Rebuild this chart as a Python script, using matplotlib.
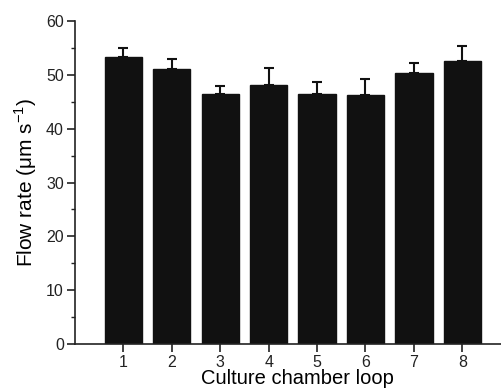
import matplotlib
matplotlib.use('Agg')
import matplotlib.pyplot as plt
from matplotlib.ticker import MultipleLocator

plt.rcParams['font.family'] = ['Liberation Sans', 'DejaVu Sans']
plt.rcParams['mathtext.fontset'] = 'custom'
plt.rcParams['mathtext.rm'] = 'Liberation Sans'

loops = [1, 2, 3, 4, 5, 6, 7, 8]
flow = [53.2, 51.1, 46.4, 48.1, 46.5, 46.2, 50.3, 52.5]
err = [1.8, 1.8, 1.4, 3.1, 2.1, 2.9, 1.8, 2.8]

fig = plt.figure(figsize=(5.02, 3.90), dpi=100)
ax = fig.add_axes([75 / 502, 1 - 344.3 / 390, (510.7 - 75) / 502, (344.3 - 20.7) / 390])

ax.bar(loops, flow, width=0.77, color='#111111', edgecolor='#111111', zorder=2)
ax.errorbar(loops, flow, yerr=[[0] * len(err), err], fmt='none', ecolor='#111111',
            elinewidth=1.5, capsize=3.5, capthick=1.5, zorder=1)

ax.set_xlim(0, 9)
ax.set_ylim(0, 60)
ax.set_xticks(loops)
ax.yaxis.set_major_locator(MultipleLocator(10))
ax.yaxis.set_minor_locator(MultipleLocator(5))

for s in ['top', 'right']:
    ax.spines[s].set_visible(False)
for s in ['left', 'bottom']:
    ax.spines[s].set_linewidth(1.2)
    ax.spines[s].set_color('#222222')

ax.tick_params(which='major', direction='out', length=5.5, width=1.2, labelsize=11.5,
               colors='#222222', pad=2.5)
ax.tick_params(which='minor', direction='out', length=3, width=1.0, colors='#222222')

ax.set_xlabel('Culture chamber loop', fontsize=14.5)
ax.xaxis.set_label_coords(0.51, -0.077, transform=ax.transAxes)
ax.xaxis.label.set_verticalalignment('top')
ax.set_ylabel('Flow rate (μm s$^{\\mathrm{-1}}$)', fontsize=15, labelpad=5)

fig.savefig('out.png', dpi=100)
